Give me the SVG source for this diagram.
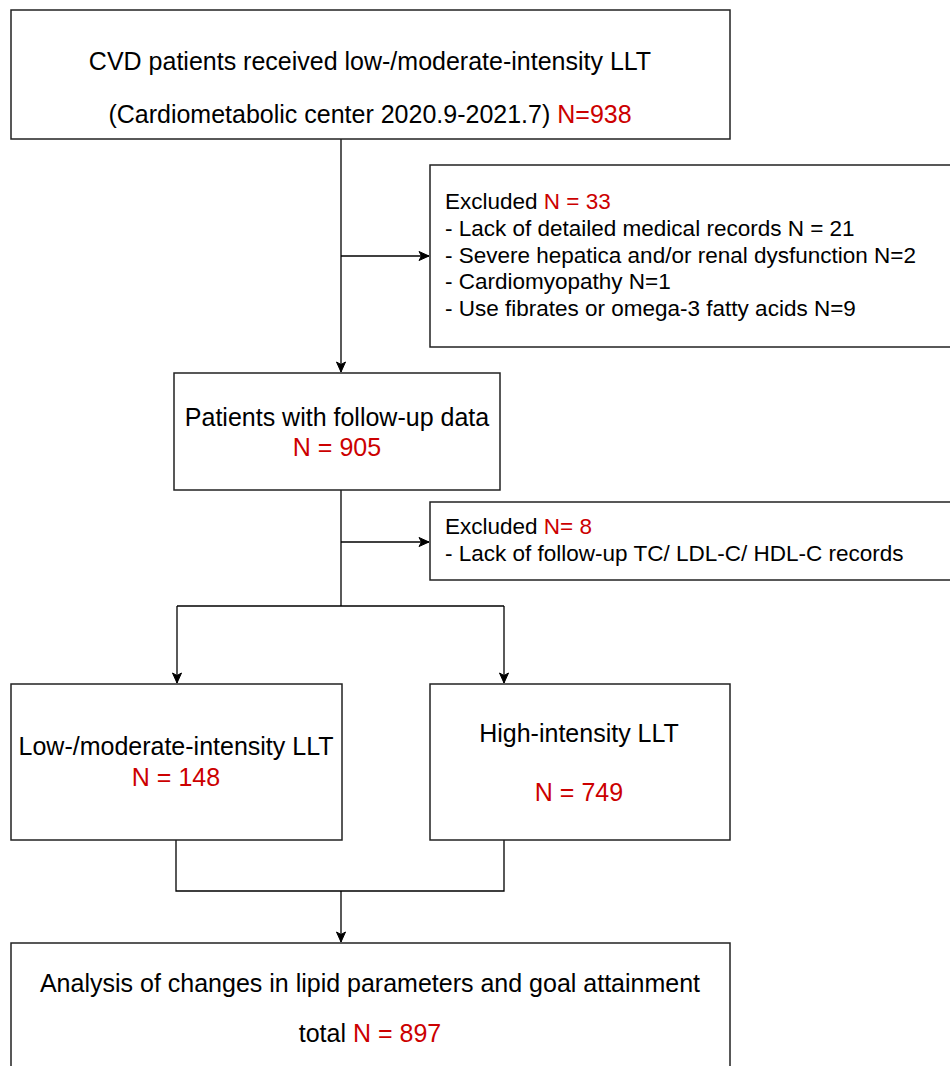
<svg xmlns="http://www.w3.org/2000/svg" width="950" height="1066" viewBox="0 0 950 1066">
  <style>
    .box { fill: #ffffff; stroke: #222222; stroke-width: 1.5; }
    .big { font-family: "Liberation Sans", Arial, sans-serif; font-size: 25px; fill: #000000; }
    .small { font-family: "Liberation Sans", Arial, sans-serif; font-size: 22.5px; fill: #000000; }
    .red { fill: #cc0000; }
    .conn { fill: none; stroke: #000000; stroke-width: 1.3; }
    .arrow { fill: none; stroke: #000000; stroke-width: 1.3; marker-end: url(#ah); }
  </style>
  <defs>
    <marker id="ah" markerUnits="userSpaceOnUse" markerWidth="12" markerHeight="12" viewBox="0 0 12 12" refX="11" refY="6" orient="auto">
      <path d="M1,1.5 L11,6 L1,10.5 L3.5,6 Z" fill="#000000" stroke="#000000" stroke-width="1"/>
    </marker>
  </defs>
  <rect x="0" y="0" width="950" height="1066" fill="#ffffff"/>

  <g id="connectors">
    <line class="arrow" x1="341" y1="139" x2="341" y2="372"/>
    <line class="arrow" x1="341" y1="256" x2="429" y2="256"/>
    <line class="conn" x1="341" y1="490" x2="341" y2="606"/>
    <line class="arrow" x1="341" y1="542" x2="429" y2="542"/>
    <polyline class="conn" points="177,606 504,606"/>
    <line class="arrow" x1="177" y1="606" x2="177" y2="683"/>
    <line class="arrow" x1="504" y1="606" x2="504" y2="683"/>
    <polyline class="conn" points="176,840 176,891 504,891 504,840"/>
    <line class="arrow" x1="341" y1="891" x2="341" y2="942"/>
  </g>

  <g id="node-start">
    <rect class="box" x="11" y="10" width="719" height="129"/>
    <text class="big" x="370" y="70" text-anchor="middle">CVD patients received low-/moderate-intensity LLT</text>
    <text class="big" x="370" y="123" text-anchor="middle">(Cardiometabolic center 2020.9-2021.7) <tspan class="red">N=938</tspan></text>
  </g>

  <g id="node-excluded1">
    <rect class="box" x="430" y="165" width="525" height="182"/>
    <text class="small" x="445" y="209">Excluded <tspan class="red">N = 33</tspan></text>
    <text class="small" x="445" y="236">- Lack of detailed medical records N = 21</text>
    <text class="small" x="445" y="263">- Severe hepatica and/or renal dysfunction N=2</text>
    <text class="small" x="445" y="289">- Cardiomyopathy N=1</text>
    <text class="small" x="445" y="316">- Use fibrates or omega-3 fatty acids N=9</text>
  </g>

  <g id="node-followup">
    <rect class="box" x="174" y="373" width="326" height="117"/>
    <text class="big" x="337" y="426" text-anchor="middle">Patients with follow-up data</text>
    <text class="big red" x="337" y="456" text-anchor="middle">N = 905</text>
  </g>

  <g id="node-excluded2">
    <rect class="box" x="430" y="502" width="525" height="78"/>
    <text class="small" x="445" y="534">Excluded <tspan class="red">N= 8</tspan></text>
    <text class="small" x="445" y="561">- Lack of follow-up TC/ LDL-C/ HDL-C records</text>
  </g>

  <g id="node-low">
    <rect class="box" x="11" y="684" width="331" height="156"/>
    <text class="big" x="176" y="755" text-anchor="middle">Low-/moderate-intensity LLT</text>
    <text class="big red" x="176" y="786" text-anchor="middle">N = 148</text>
  </g>

  <g id="node-high">
    <rect class="box" x="430" y="684" width="300" height="156"/>
    <text class="big" x="579" y="742" text-anchor="middle">High-intensity LLT</text>
    <text class="big red" x="579" y="801" text-anchor="middle">N = 749</text>
  </g>

  <g id="node-analysis">
    <rect class="box" x="11" y="943" width="719" height="130"/>
    <text class="big" x="370" y="992" text-anchor="middle">Analysis of changes in lipid parameters and goal attainment</text>
    <text class="big" x="370" y="1042" text-anchor="middle">total <tspan class="red">N = 897</tspan></text>
  </g>
</svg>
